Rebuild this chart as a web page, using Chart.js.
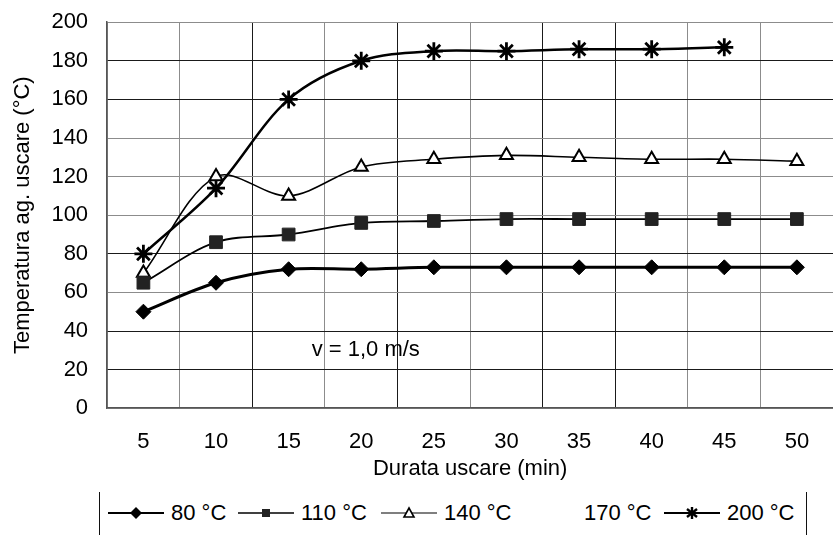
<!DOCTYPE html>
<html>
<head>
<meta charset="utf-8">
<script src="https://cdn.jsdelivr.net/npm/chart.js@4/dist/chart.umd.min.js"></script>
<style>
  html, body { margin: 0; padding: 0; background: #fff; width: 833px; height: 535px; overflow: hidden; }
  #wrap { position: absolute; left: 0; top: -10px; width: 845px; height: 496px; }
  #legend { position: absolute; left: 99px; top: 492px; width: 706px; height: 60px;
            border-left: 1.5px solid #111; border-right: 1.5px solid #111; }
  .item { position: absolute; top: 8px; display: flex; align-items: center; height: 26px;
          font: 22px "Liberation Sans", Arial, sans-serif; color: #000; }
  .item svg { margin-right: 7px; }
</style>
</head>
<body>
<div id="wrap"><canvas id="chart" width="845" height="496"></canvas></div>
<div id="legend"></div>
<script>
const categories = [5, 10, 15, 20, 25, 30, 35, 40, 45, 50];
const t80  = [50, 65, 72, 72, 73, 73, 73, 73, 73, 73];
const t110 = [65, 86, 90, 96, 97, 98, 98, 98, 98, 98];
const t140 = [70, 120, 110, 125, 129, 131, 130, 129, 129, 128];
const t170 = [null, null, null, null, null, null, null, null, null, null];
const t200 = [80, 114, 160, 180, 185, 185, 186, 186, 187, null];
const seriesNames = ['80 °C', '110 °C', '140 °C', '170 °C', '200 °C'];
const yMin = 0, yMax = 200, yStep = 20;

const FONT = '"Liberation Sans", Arial, sans-serif';

// solid vs. dash-dot grid lines, as in the scan
const solidY = [180, 160, 80, 40, 20];
const solidX = [2, 4, 6, 7];

const note = {
  id: 'note',
  afterDatasetsDraw(chart) {
    const { ctx, scales } = chart;
    ctx.save();
    ctx.font = '22px ' + FONT;
    ctx.fillStyle = '#000';
    ctx.textBaseline = 'middle';
    ctx.fillText('v = 1,0 m/s', scales.x.getPixelForValue(2) + 23, scales.y.getPixelForValue(30));
    ctx.restore();
  }
};

new Chart(document.getElementById('chart'), {
  type: 'line',
  data: {
    labels: categories,
    datasets: [
      { label: seriesNames[0], data: t80, borderColor: '#000', borderWidth: 3,
        pointStyle: 'rectRot', pointRadius: 7.5, pointBackgroundColor: '#000', pointBorderColor: '#000', pointBorderWidth: 1 },
      { label: seriesNames[1], data: t110, borderColor: '#000', borderWidth: 1.8,
        pointStyle: 'rect', pointRadius: 9, pointBackgroundColor: '#222', pointBorderColor: '#222', pointBorderWidth: 1 },
      { label: seriesNames[2], data: t140, borderColor: '#000', borderWidth: 1.6,
        pointStyle: 'triangle', pointRadius: 7.5, pointBackgroundColor: '#fff', pointBorderColor: '#000', pointBorderWidth: 2 },
      { label: seriesNames[3], data: t170, borderColor: 'rgba(0,0,0,0)', pointRadius: 0 },
      { label: seriesNames[4], data: t200, borderColor: '#000', borderWidth: 2.5,
        pointStyle: 'star', pointRadius: 9, pointBackgroundColor: '#000', pointBorderColor: '#000', pointBorderWidth: 2.8 }
    ]
  },
  options: {
    responsive: false,
    animation: false,
    layout: { padding: { top: 12, right: 3, left: 0, bottom: 0 } },
    elements: { line: { tension: 0.33, fill: false } },
    plugins: { legend: { display: false }, tooltip: { enabled: false } },
    scales: {
      x: {
        offset: true,
        grid: {
          offset: true,
          drawTicks: false,
          color: c => solidX.includes(c.index) ? '#1a1a1a' : '#8c8c8c',
          lineWidth: 1
        },
        border: { color: '#555', width: 1.5 },
        ticks: { color: '#000', font: { family: FONT, size: 22 }, padding: 21 },
        title: { display: true, text: 'Durata uscare (min)', color: '#000',
                 font: { family: FONT, size: 22 }, padding: { top: -21, bottom: 4 } }
      },
      y: {
        min: yMin, max: yMax,
        grid: {
          drawTicks: false,
          color: c => solidY.includes(c.tick.value) ? '#1a1a1a' : '#8c8c8c',
          lineWidth: 1
        },
        border: { color: '#555', width: 1.5 },
        ticks: { stepSize: yStep, color: '#000', font: { family: FONT, size: 22 }, padding: 19 },
        title: { display: true, text: 'Temperatura ag. uscare (°C)', color: '#000',
                 font: { family: FONT, size: 22 }, padding: { top: 10, bottom: -4 } }
      }
    }
  },
  plugins: [note]
});

// legend: line + marker, then the name
const legendLefts = [8, 138, 281, 421, 564];
const markers = [
  '<polygon points="28,4 34,10 28,16 22,10" fill="#000"/>',
  '<rect x="24" y="6" width="8" height="8" fill="#222"/>',
  '<polygon points="28,5 33,14 23,14" fill="#fff" stroke="#000" stroke-width="1.6"/>',
  '',
  '<g stroke="#000" stroke-width="2.4"><line x1="28" y1="4" x2="28" y2="16"/><line x1="23" y1="6" x2="33" y2="14"/><line x1="33" y1="6" x2="23" y2="14"/></g>'
];
const lineW = [2.2, 1.6, 1.2, 0, 2];
const legend = document.getElementById('legend');
seriesNames.forEach((name, i) => {
  const el = document.createElement('div');
  el.className = 'item';
  el.style.left = legendLefts[i] + 'px';
  const line = lineW[i] ? `<line x1="0" y1="10" x2="56" y2="10" stroke="#000" stroke-width="${lineW[i]}"/>` : '';
  el.innerHTML = `<svg width="56" height="20">${line}${markers[i]}</svg><span>${name}</span>`;
  legend.appendChild(el);
});
</script>
</body>
</html>
